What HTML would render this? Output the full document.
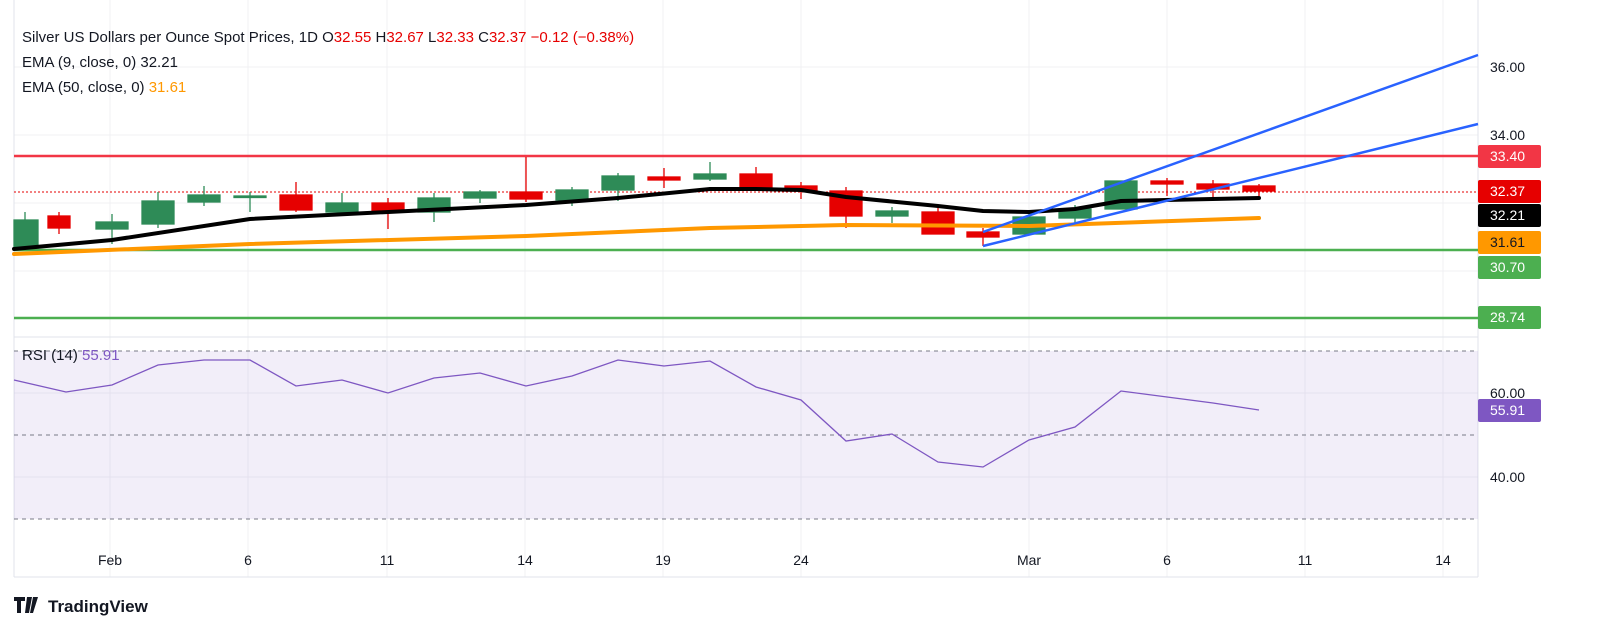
<!DOCTYPE html>
<html><head><meta charset="utf-8"><style>
body{margin:0;background:#fff;}
svg{display:block;font-family:"Liberation Sans",sans-serif;}
</style></head><body>
<svg width="1602" height="644" viewBox="0 0 1602 644" xmlns="http://www.w3.org/2000/svg">
<rect width="1602" height="644" fill="#fff"/>
<g stroke="#f0f1f3" stroke-width="1">
<line x1="110" y1="0" x2="110" y2="577"/><line x1="248" y1="0" x2="248" y2="577"/><line x1="387" y1="0" x2="387" y2="577"/><line x1="525" y1="0" x2="525" y2="577"/><line x1="663" y1="0" x2="663" y2="577"/><line x1="801" y1="0" x2="801" y2="577"/><line x1="1029" y1="0" x2="1029" y2="577"/><line x1="1167" y1="0" x2="1167" y2="577"/><line x1="1305" y1="0" x2="1305" y2="577"/><line x1="1443" y1="0" x2="1443" y2="577"/>
<line x1="14" y1="67" x2="1478" y2="67"/><line x1="14" y1="135" x2="1478" y2="135"/><line x1="14" y1="203" x2="1478" y2="203"/><line x1="14" y1="271" x2="1478" y2="271"/>
<line x1="14" y1="393" x2="1478" y2="393"/><line x1="14" y1="477" x2="1478" y2="477"/>
</g>
<line x1="14" y1="0" x2="14" y2="577" stroke="#e0e3eb"/>
<line x1="1478" y1="0" x2="1478" y2="577" stroke="#e0e3eb"/>
<line x1="14" y1="577" x2="1478" y2="577" stroke="#e0e3eb"/>
<line x1="14" y1="337" x2="1478" y2="337" stroke="#e0e3eb"/>
<!-- RSI -->
<rect x="14" y="351" width="1464" height="168" fill="#7e57c2" fill-opacity="0.1"/>
<g stroke="#787b86" stroke-dasharray="4,4" stroke-width="1">
<line x1="14" y1="351" x2="1478" y2="351"/><line x1="14" y1="435" x2="1478" y2="435"/><line x1="14" y1="519" x2="1478" y2="519"/>
</g>
<polyline fill="none" stroke="#7e57c2" stroke-width="1.3" points="14,380 66,392 112,385 158,365 204,360 250,360 296,386 342,380 388,393 434,378 480,373 526,386 572,376 618,360 664,366 710,361 756,387 801,400 846,441 892,434 938,462 983,467 1029,440 1075,427 1121,391 1167,397 1213,403 1259,410"/>
<!-- levels -->
<line x1="14" y1="156" x2="1478" y2="156" stroke="#f23645" stroke-width="2.5"/>
<line x1="14" y1="250" x2="1478" y2="250" stroke="#4caf50" stroke-width="2.5"/>
<line x1="14" y1="318" x2="1478" y2="318" stroke="#4caf50" stroke-width="2.5"/>
<line x1="14" y1="192" x2="1478" y2="192" stroke="#e60000" stroke-width="1" stroke-dasharray="2,2"/>
<!-- candles -->
<g stroke-width="1.3">
<g stroke="#2e8b57" fill="#2e8b57">
<line x1="25" y1="212" x2="25" y2="248"/><rect x="14" y="220" width="24" height="28"/>
<line x1="112" y1="214" x2="112" y2="244"/><rect x="96" y="222" width="32" height="7"/>
<line x1="158" y1="192" x2="158" y2="228"/><rect x="142" y="201" width="32" height="23"/>
<line x1="204" y1="186" x2="204" y2="206"/><rect x="188" y="195" width="32" height="7"/>
<line x1="250" y1="192" x2="250" y2="212"/><rect x="234" y="196" width="32" height="1.5"/>
<line x1="342" y1="193" x2="342" y2="215"/><rect x="326" y="203" width="32" height="9"/>
<line x1="434" y1="193" x2="434" y2="222"/><rect x="418" y="198" width="32" height="14"/>
<line x1="480" y1="190" x2="480" y2="203"/><rect x="464" y="192" width="32" height="6"/>
<line x1="572" y1="187" x2="572" y2="206"/><rect x="556" y="190" width="32" height="10"/>
<line x1="618" y1="173" x2="618" y2="201"/><rect x="602" y="176" width="32" height="14"/>
<line x1="710" y1="162" x2="710" y2="181"/><rect x="694" y="174" width="32" height="5"/>
<line x1="892" y1="207" x2="892" y2="223"/><rect x="876" y="211" width="32" height="5"/>
<line x1="1029" y1="213" x2="1029" y2="234"/><rect x="1013" y="217" width="32" height="17"/>
<line x1="1075" y1="205" x2="1075" y2="226"/><rect x="1059" y="209" width="32" height="9"/>
<rect x="1105" y="181" width="32" height="28"/>
</g>
<g stroke="#e60000" fill="#e60000">
<line x1="59" y1="212" x2="59" y2="234"/><rect x="48" y="216" width="22" height="12"/>
<line x1="296" y1="182" x2="296" y2="212"/><rect x="280" y="195" width="32" height="15"/>
<line x1="388" y1="198" x2="388" y2="229"/><rect x="372" y="203" width="32" height="9"/>
<line x1="526" y1="157" x2="526" y2="202"/><rect x="510" y="192" width="32" height="7"/>
<line x1="664" y1="168" x2="664" y2="188"/><rect x="648" y="177" width="32" height="3"/>
<line x1="756" y1="167" x2="756" y2="187"/><rect x="740" y="174" width="32" height="13"/>
<line x1="801" y1="182" x2="801" y2="199"/><rect x="785" y="186" width="32" height="5"/>
<line x1="846" y1="187" x2="846" y2="228"/><rect x="830" y="191" width="32" height="25"/>
<line x1="938" y1="207" x2="938" y2="234"/><rect x="922" y="212" width="32" height="22"/>
<line x1="983" y1="228" x2="983" y2="246"/><rect x="967" y="232" width="32" height="5"/>
<line x1="1167" y1="178" x2="1167" y2="196"/><rect x="1151" y="181" width="32" height="3"/>
<line x1="1213" y1="180" x2="1213" y2="199"/><rect x="1197" y="184" width="32" height="5"/>
<line x1="1259" y1="184" x2="1259" y2="196"/><rect x="1243" y="186" width="32" height="5"/>
</g></g>
<polyline fill="none" stroke="#ff9800" stroke-width="4" stroke-linecap="round" points="14,254 250,244 526,236 710,228 846,225 1029,226 1259,218"/>
<polyline fill="none" stroke="#000" stroke-width="4" stroke-linecap="round" stroke-linejoin="round" points="14,249 112,240 250,219 526,205 618,198 710,189 756,189 801,190 846,197 938,206 983,211 1029,212 1075,209 1121,201 1259,198"/>
<line x1="983" y1="232" x2="1478" y2="55" stroke="#2962ff" stroke-width="2.5"/>
<line x1="983" y1="246" x2="1478" y2="124" stroke="#2962ff" stroke-width="2.5"/>
<!-- legend -->
<g font-size="15" fill="#131722">
<text x="22" y="42">Silver US Dollars per Ounce Spot Prices, 1D  <tspan fill="#131722">O</tspan><tspan fill="#e60000">32.55</tspan> H<tspan fill="#e60000">32.67</tspan> L<tspan fill="#e60000">32.33</tspan> C<tspan fill="#e60000">32.37</tspan> <tspan fill="#e60000">−0.12 (−0.38%)</tspan></text>
<text x="22" y="67">EMA (9, close, 0)  <tspan>32.21</tspan></text>
<text x="22" y="92">EMA (50, close, 0)  <tspan fill="#ff9800">31.61</tspan></text>
<text x="22" y="360">RSI (14)  <tspan fill="#7e57c2">55.91</tspan></text>
</g>
<!-- axis labels -->
<g font-size="14" fill="#131722">
<text x="1490" y="72">36.00</text><text x="1490" y="140">34.00</text>
<text x="1490" y="398">60.00</text><text x="1490" y="482">40.00</text>
</g>
<g font-size="14" fill="#fff">
<rect x="1478" y="145" width="63" height="23" rx="2" fill="#f23645"/><text x="1490" y="161">33.40</text>
<rect x="1478" y="180" width="63" height="23" rx="2" fill="#e60000"/><text x="1490" y="196">32.37</text>
<rect x="1478" y="204" width="63" height="23" rx="2" fill="#000"/><text x="1490" y="220">32.21</text>
<rect x="1478" y="231" width="63" height="23" rx="2" fill="#ff9800"/><text x="1490" y="247" fill="#131722">31.61</text>
<rect x="1478" y="256" width="63" height="23" rx="2" fill="#4caf50"/><text x="1490" y="272">30.70</text>
<rect x="1478" y="306" width="63" height="23" rx="2" fill="#4caf50"/><text x="1490" y="322">28.74</text>
<rect x="1478" y="399" width="63" height="23" rx="2" fill="#7e57c2"/><text x="1490" y="415">55.91</text>
</g>
<g font-size="14" fill="#131722" text-anchor="middle">
<text x="110" y="565">Feb</text><text x="248" y="565">6</text><text x="387" y="565">11</text><text x="525" y="565">14</text><text x="663" y="565">19</text><text x="801" y="565">24</text><text x="1029" y="565">Mar</text><text x="1167" y="565">6</text><text x="1305" y="565">11</text><text x="1443" y="565">14</text>
</g>
<g fill="#131722">
<path d="M14 597h11v4h-4v12h-4v-12h-3z M27 597h5l-3 16h-4z M33 597h5l-5 16h-3z"/>
<text x="48" y="612" font-size="17" font-weight="bold">TradingView</text>
</g>
</svg>
</body></html>
